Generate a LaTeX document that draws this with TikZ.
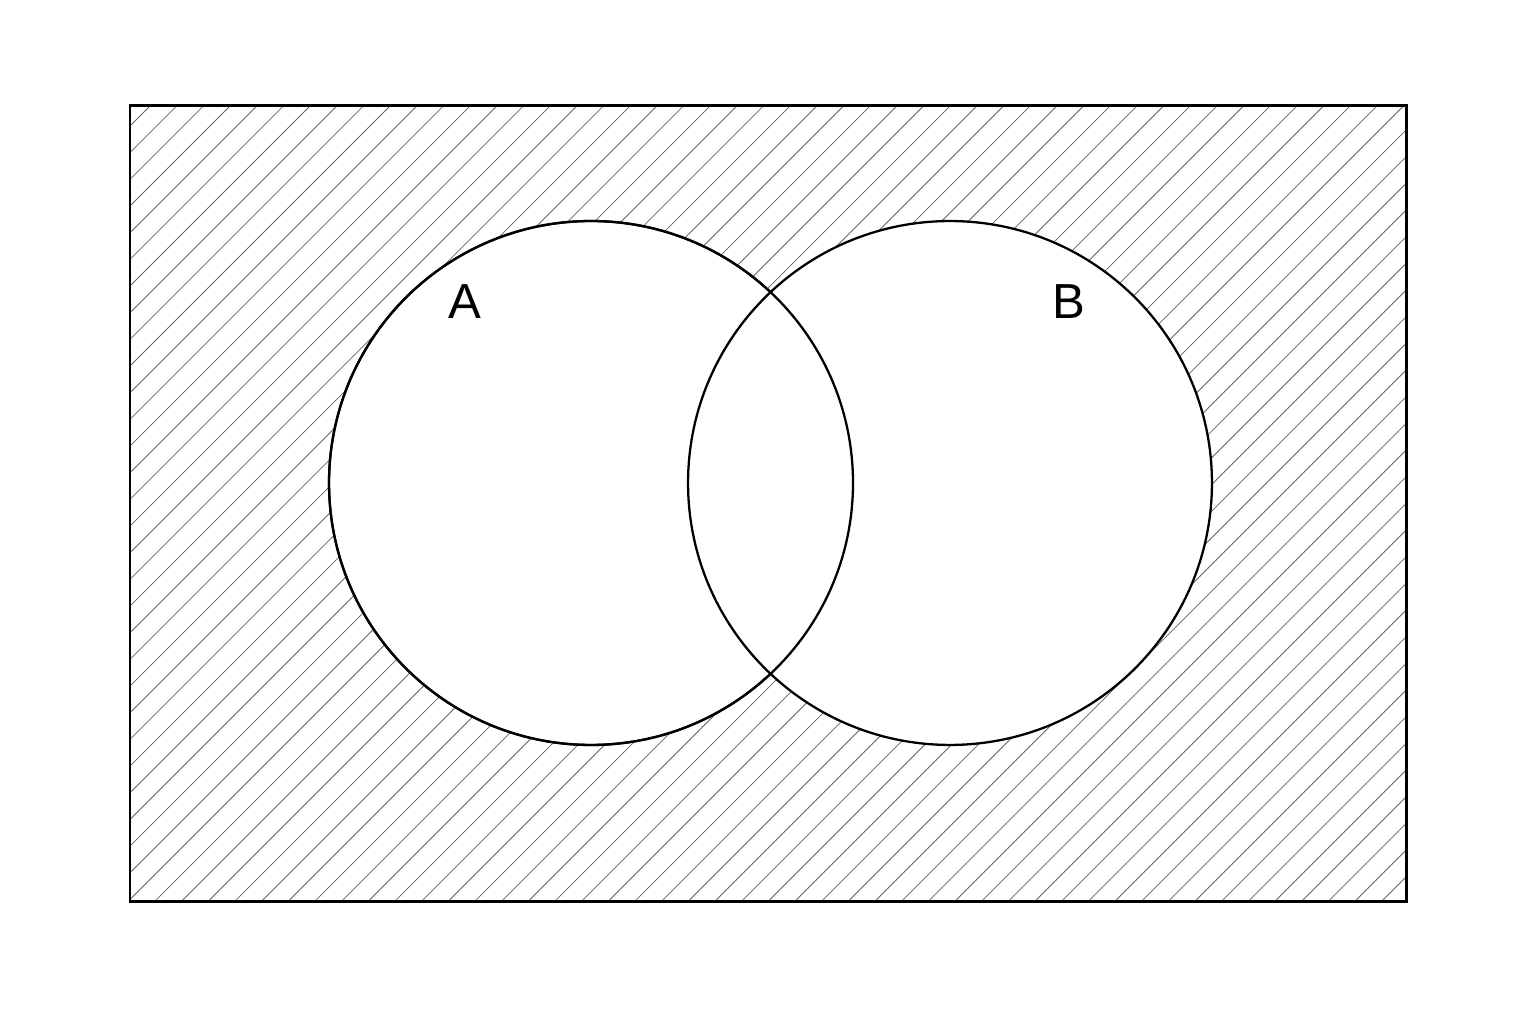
\documentclass[tikz,border=0pt]{standalone}
\usepackage{fontspec}
\setmainfont{Liberation Sans}
\begin{document}
\begin{tikzpicture}[x=0.02cm,y=0.02cm]
            \useasboundingbox (0,0) rectangle (1536,1024);
            \fill[white] (0,0) rectangle (1536,1024);

            % hatching of the universe
            \begin{scope}
                \clip (130,122) rectangle (1406,918);
                \foreach \k in {-2,...,82}
                    \draw[gray!80!black,line width=0.45pt] ({-741.3+26.67*\k},0) -- ({-741.3+26.67*\k+1100},1100);
            \end{scope}

            \begin{scope}[every node/.style={circle,draw,fill=white,line width=1.3pt,inner sep=0pt,minimum size=10.48cm}]
                \node (setA) at (591,541) {};
                \node (setB) at (950,541) {};
            \end{scope}
            \draw[line width=1.3pt] (setA.center) circle (262);

            \draw[line width=1.7pt] (130,122) rectangle (1406,918);

            \begin{scope}[every node/.style={font=\fontsize{28}{34}\selectfont}]
                \node (labA) at (465,722) {A};
                \node (labB) at (1069,722) {B};
            \end{scope}
            \end{tikzpicture}
\end{document}
